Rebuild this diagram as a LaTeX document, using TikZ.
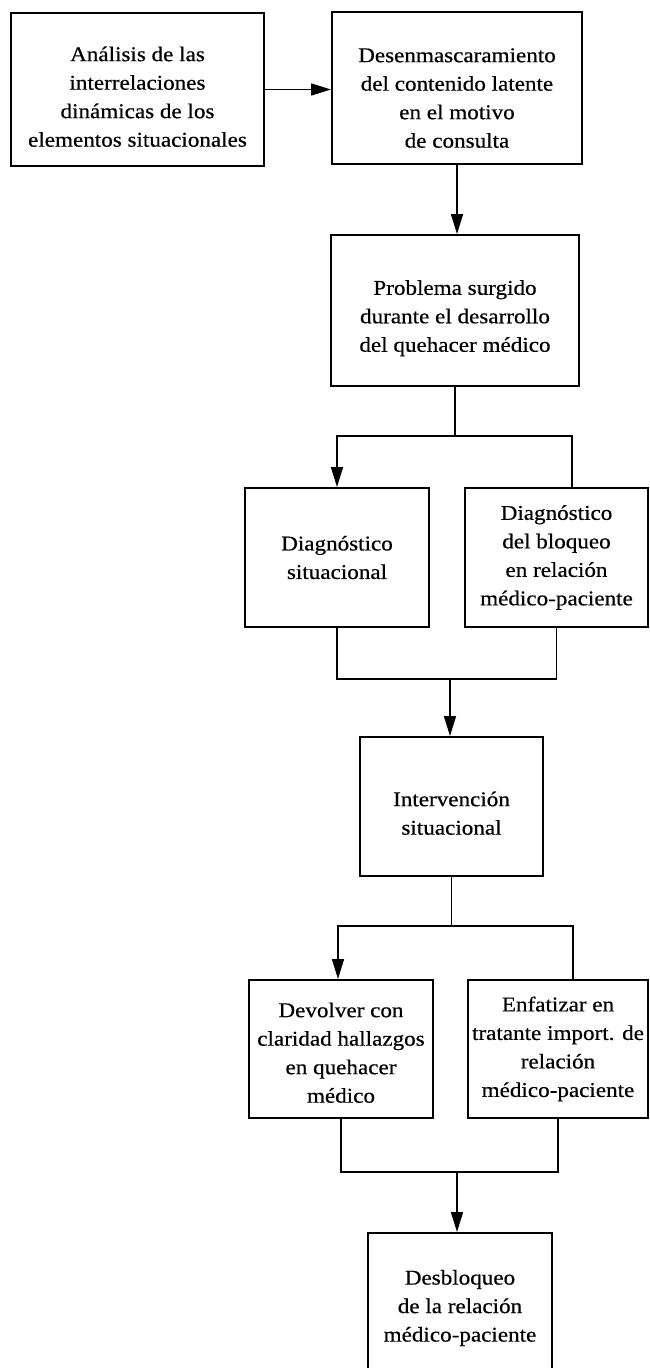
\documentclass[tikz,border=0pt]{standalone}
\usepackage{fontspec}
\setmainfont{Liberation Serif}[FakeStretch=1.1,FakeBold=0.5]
\usetikzlibrary{arrows.meta,calc}
% strut on a first line: pushes the text block of a box downwards
\newcommand\topgap[1]{\rule{0pt}{#1}}

\begin{document}
\begin{tikzpicture}[x=1pt,y=-1pt,
  box/.style={draw, line width=2pt, rectangle, align=center, inner sep=2pt,
    font=\fontsize{21}{28.5}\selectfont},
  link/.style={line width=1.6pt},
  arr/.style={link, -{Triangle[length=20pt,width=12pt]}}]
\useasboundingbox (0,0) rectangle (649,1368);
\clip (0,0) rectangle (649,1368);

% process boxes
\node[box, minimum width=253pt, minimum height=153pt] (A) at (137.5,89.5)
  {\topgap{29pt}Análisis de las\\interrelaciones\\dinámicas de los\\elementos situacionales};
\node[box, minimum width=250pt, minimum height=152pt] (B) at (457,88)
  {\topgap{34pt}Desenmascaramiento\\del contenido latente\\en el motivo\\de consulta};
\node[box, minimum width=248pt, minimum height=151pt] (C) at (455,310.5)
  {\topgap{30pt}Problema surgido\\durante el desarrollo\\del quehacer médico};
\node[box, minimum width=184pt, minimum height=139pt] (D) at (337,557.5)
  {Diagnóstico\\situacional};
\node[box, minimum width=183pt, minimum height=139pt] (E) at (556.5,557.5)
  {Diagnóstico\\del bloqueo\\en relación\\médico-paciente};
\node[box, minimum width=183pt, minimum height=139pt] (F) at (451.5,806.5)
  {\topgap{28pt}Intervención\\situacional};
\node[box, minimum width=184pt, minimum height=138pt] (G) at (341,1049)
  {\topgap{22pt}Devolver con\\claridad hallazgos\\en quehacer\\médico};
\node[box, minimum width=180pt, minimum height=138pt] (H) at (558,1049)
  {Enfatizar en\\tratante import. de\\relación\\médico-paciente};
\node[box, minimum width=184pt, minimum height=150pt] (I) at (460,1308)
  {Desbloqueo\\de la relación\\médico-paciente};

% junction points of the branching connectors
\coordinate (s1L) at (337,436);
\coordinate (s1R) at (572,436);
\coordinate (m1)  at (450,679);
\coordinate (s2L) at (338,926);
\coordinate (s2R) at (573,926);
\coordinate (m2)  at (457,1172);

% connectors
\draw[arr] (A.east) -- (A.east -| B.west);
\draw[arr] (B.south) -- (B.south |- C.north);

\draw[link] (C.south) -- (C.south |- s1L);
\draw[arr] (s1R |- E.north) -- (s1R) -- (s1L) -- (s1L |- D.north);

\draw[link] (D.south) -- (D.south |- m1) -- (E.south |- m1) -- (E.south);
\draw[arr] (m1) -- (m1 |- F.north);

\draw[link] (F.south) -- (F.south |- s2L);
\draw[arr] (s2R |- H.north) -- (s2R) -- (s2L) -- (s2L |- G.north);

\draw[link] (G.south) -- (G.south |- m2) -- (H.south |- m2) -- (H.south);
\draw[arr] (m2) -- (m2 |- I.north);
\end{tikzpicture}
\end{document}
